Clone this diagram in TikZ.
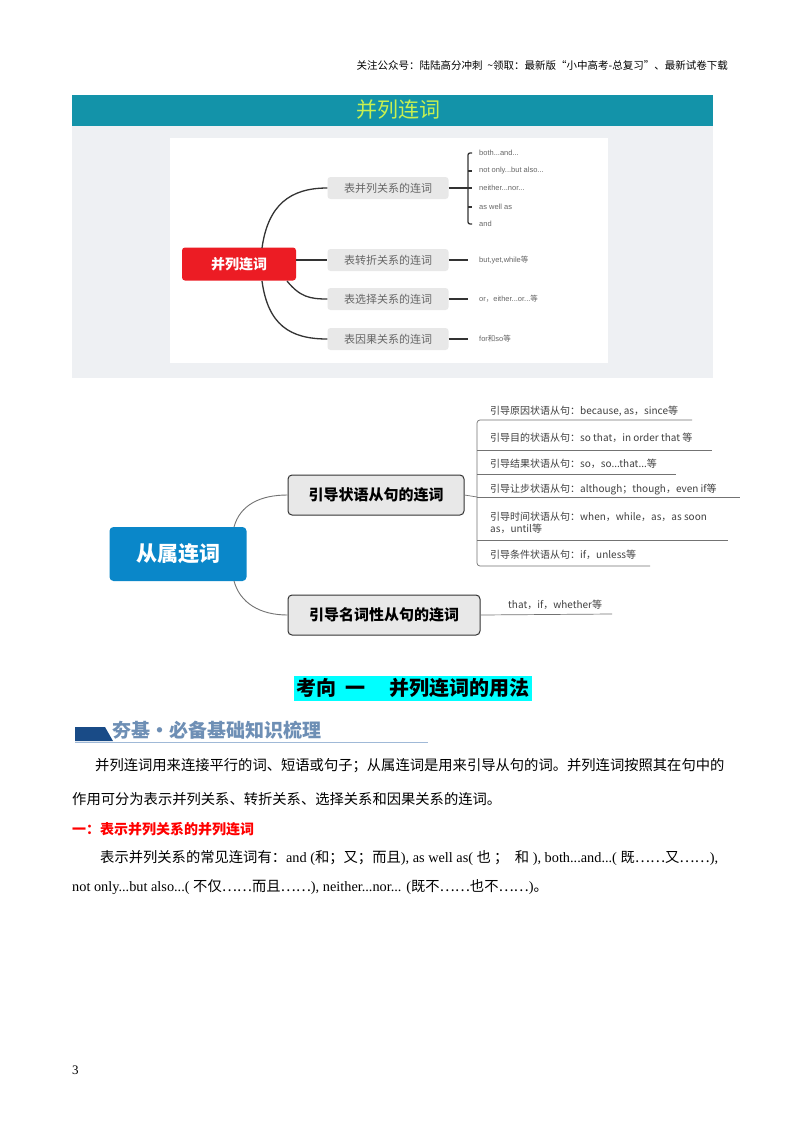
\documentclass[tikz,border=0pt]{standalone}
\usepackage{fontspec}
\setmainfont{Liberation Serif}
\newfontfamily\cjk{Noto Sans CJK SC}
\newfontfamily\lsans{Liberation Sans}
\usetikzlibrary{shapes.geometric}
\definecolor{teal1}{HTML}{1393A9}
\definecolor{bgg}{HTML}{EEF0F3}
\definecolor{redn}{HTML}{EC1C24}
\definecolor{bluen}{HTML}{0A87C9}
\definecolor{boxg}{HTML}{E8E8E8}
\definecolor{lblue}{HTML}{6E8FB5}
\definecolor{ttl}{RGB}{200,240,80}
\definecolor{cyanh}{RGB}{0,255,255}
\definecolor{dblue}{RGB}{25,75,135}
\definecolor{llblue}{RGB}{160,185,215}
\begin{document}
\begin{tikzpicture}[x=1pt,y=-1pt,
  sub/.style={fill=boxg,rounded corners=3pt,minimum width=121pt,minimum height=22pt,inner sep=0pt,font=\cjk\fontsize{11}{12}\selectfont,text=black!60},
  leafa/.style={anchor=west,font=\lsans\fontsize{7.5}{9}\selectfont,text=black!60,inner sep=1pt},
  br/.style={draw=black!80,line width=1.3pt},
  sub2/.style={draw=black!80,line width=1pt,fill=boxg,rounded corners=4pt,inner sep=0pt,minimum height=40pt,font=\cjk\bfseries\fontsize{15}{17}\selectfont},
  leafb/.style={anchor=west,font=\cjk\fontsize{10}{12.5}\selectfont,text=black!75,inner sep=0pt},
  ln/.style={draw=black!55,line width=0.7pt},
  para/.style={anchor=west,inner sep=0pt,font=\cjk\fontsize{14.3}{16}\selectfont}]
\useasboundingbox (0,0) rectangle (800,1132);
\fill[white] (0,0) rectangle (800,1132);
\node[anchor=east,inner sep=0pt,font=\cjk\fontsize{10.5}{12}\selectfont] (hdr) at (728,65) {关注公众号：陆陆高分冲刺\ \ \textasciitilde 领取：最新版“小中高考-总复习”、最新试卷下载};
% banner 1
\fill[bgg] (72,126) rectangle (713,378);
\fill[teal1] (72,95) rectangle (713,126);
\node[font=\cjk\fontsize{21}{23}\selectfont,text=ttl] (t1) at (398,110) {并列连词};
\fill[white] (170,138) rectangle (608,363);
\node[fill=redn,rounded corners=3pt,minimum width=114pt,minimum height=33pt,inner sep=0pt,text=white,font=\cjk\bfseries\fontsize{14}{16}\selectfont] (root1) at (239,264) {并列连词};
\node[sub] (s1) at (388,188) {表并列关系的连词};
\node[sub] (s2) at (388,260) {表转折关系的连词};
\node[sub] (s3) at (388,299) {表选择关系的连词};
\node[sub] (s4) at (388,339) {表因果关系的连词};
\draw[br] (262,248) .. controls (268,205) and (290,188) .. (s1.west);
\draw[br] (root1.east |- s2.west) -- (s2.west);
\draw[br] (287,281) .. controls (300,297) and (310,299) .. (s3.west);
\draw[br] (262,281) .. controls (268,325) and (290,339) .. (s4.west);
\draw[br] (s1.east) -- (s1.east -| 468,0);
\draw[br] (472,153) -- (470,153) arc[start angle=90,end angle=180,radius=2pt] -- (468,222) arc[start angle=180,end angle=270,radius=2pt] -- (472,224);
\foreach \yy in {171,188,207} \draw[br] (468,\yy) -- (472,\yy);
\node[leafa] (l1) at (478,153) {both...and...};
\node[leafa] (l2) at (478,171) {not only...but also...};
\node[leafa] (l3) at (478,188) {neither...nor...};
\node[leafa] (l4) at (478,207) {as well as};
\node[leafa] (l5) at (478,224) {and};
\node[leafa] (l6) at (478,260) {but,yet,while\cjk 等};
\node[leafa] (l7) at (478,299) {or{\cjk ，}either...or...\cjk 等};
\node[leafa] (l8) at (478,339) {for\cjk 和\lsans so\cjk 等};
\coordinate (e6) at (468,260); \coordinate (e7) at (468,299); \coordinate (e8) at (468,339);
\draw[br] (s2.east) -- (e6); \draw[br] (s3.east) -- (e7); \draw[br] (s4.east) -- (e8);
% mind map 2
\node[fill=bluen,rounded corners=4pt,minimum width=137pt,minimum height=54pt,inner sep=0pt,text=white,font=\cjk\bfseries\fontsize{21}{23}\selectfont] (root2) at (178,554) {从属连词};
\node[sub2,minimum width=176pt] (a1) at (376,495) {引导状语从句的连词};
\node[sub2,minimum width=192pt] (a2) at (384,615) {引导名词性从句的连词};
\draw[ln,line width=0.9pt] (234,527) .. controls (240,505) and (260,495) .. (a1.west);
\draw[ln,line width=0.9pt] (234,581) .. controls (240,603) and (260,615) .. (a2.west);
\draw[ln] (a1.east) -- (477,497);
\draw[ln] (692,420) -- (480,420) arc[start angle=90,end angle=180,radius=3pt] -- (477,563) arc[start angle=180,end angle=270,radius=3pt] -- (650,566);
\draw[ln] (477,450) -- (712,450);
\draw[ln] (477,474) -- (676,474);
\draw[ln] (477,497) -- (740,497);
\draw[ln] (477,540) -- (728,540);
\node[leafb] (m1) at (490,411) {引导原因状语从句：because, as，since等};
\node[leafb] (m2) at (490,438) {引导目的状语从句：so that，in order that 等};
\node[leafb] (m3) at (490,464) {引导结果状语从句：so，so...that...等};
\node[leafb] (m4) at (490,490) {引导让步状语从句：although；though，even if等};
\node[leafb,align=left] (m5) at (490,523) {引导时间状语从句：when，while，as，as soon\\as，until等};
\node[leafb] (m6) at (490,555) {引导条件状语从句：if，unless等};
\draw[ln] (a2.east) -- (612,614);
\node[leafb] (m7) at (508,605) {that，if，whether等};
% text section
\node[fill=cyanh,inner sep=2pt,minimum height=25pt,font=\cjk\bfseries\fontsize{20}{22}\selectfont] (kx) at (413,688) {考向\ \ 一\quad\ 并列连词的用法};
\fill[dblue] (75,727) -- (105,727) -- (113,741) -- (75,741) -- cycle;
\draw[llblue,line width=1pt] (75,742.5) -- (428,742.5);
\node[anchor=west,inner sep=0pt,text=lblue,font=\cjk\bfseries\fontsize{19}{21}\selectfont] (jj) at (112,730) {夯基·必备基础知识梳理};
\node[para] (p1) at (95,766) {并列连词用来连接平行的词、短语或句子；从属连词是用来引导从句的词。并列连词按照其在句中的};
\node[para] (p2) at (72,799) {作用可分为表示并列关系、转折关系、选择关系和因果关系的连词。};
\node[para,text=red,font=\cjk\bfseries\fontsize{14}{16}\selectfont] (p3) at (72,829) {一：表示并列关系的并列连词};
\node[para,font=\fontsize{14.3}{16}\selectfont] (p4) at (100,858) {{\cjk 表示并列关系的常见连词有：}and ({\cjk 和；又；而且}), as well as( {\cjk 也\ ；\ \ 和} ), both...and...( {\cjk 既……又……}),};
\node[para,font=\fontsize{14.3}{16}\selectfont] (p5) at (72,887) {not only...but also...( {\cjk 不仅……而且……}), neither...nor... ({\cjk 既不……也不……}){\cjk 。}};
\node[anchor=west,inner sep=0pt,font=\fontsize{13}{15}\selectfont] (pg) at (72,1070) {3};
\end{tikzpicture}
\end{document}
